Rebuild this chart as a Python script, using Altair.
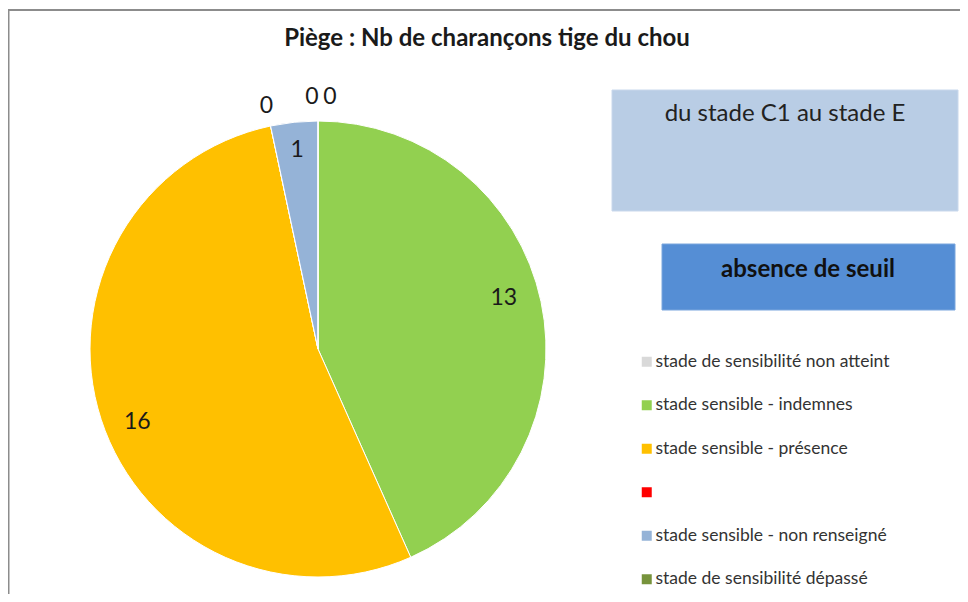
import altair as alt
import pandas as pd

categories = [
    "stade de sensibilité non atteint",
    "stade sensible - indemnes",
    "stade sensible - présence",
    "rouge",
    "stade sensible - non renseigné",
    "stade de sensibilité dépassé",
]
values = [0, 13, 16, 0, 1, 0]
colors = ["#D9D9D9", "#92D050", "#FFC000", "#FF0000", "#95B3D7", "#77933C"]

title_text = "Piège : Nb de charançons tige du chou"
box1_text = "du stade C1 au stade E"
box2_text = "absence de seuil"

FONT = "Lato"
W, H = 952, 586
CX, CY, R = 310, 341, 228

df = pd.DataFrame({"cat": categories, "value": values, "idx": list(range(len(values)))})

base = alt.Chart(df).transform_calculate(
    lab="toString(datum.value)"
)

theta = alt.Theta("value:Q", stack=True)
order = alt.Order("idx:Q", sort="ascending")

pie = base.mark_arc(outerRadius=R, stroke="white", strokeWidth=1).encode(
    theta=theta,
    order=order,
    x=alt.value(CX),
    y=alt.value(CY),
    color=alt.Color(
        "cat:N",
        scale=alt.Scale(domain=categories, range=colors),
        sort=categories,
        legend=alt.Legend(
            orient="none",
            legendX=630,
            legendY=345,
            direction="vertical",
            title=None,
            symbolType="square",
            symbolSize=100,
            symbolStrokeWidth=0,
            labelFont=FONT,
            labelFontSize=17.5,
            labelColor="#333333",
            labelOffset=0,
            rowPadding=24.5,
            padding=0,
            labelLimit=400,
            labelExpr="datum.label == 'rouge' ? '' : datum.label",
        ),
    ),
)

def label_layer(which, radius, dx=0, dy=0):
    return base.transform_calculate(
        txt=f"datum.idx == {which} ? datum.lab : ''"
    ).mark_text(
        radius=radius, dx=dx, dy=dy, font=FONT, fontSize=23, color="#1a1a1a",
        align="center", baseline="middle",
    ).encode(
        theta=theta,
        order=order,
        x=alt.value(CX),
        y=alt.value(CY),
        text=alt.Text("txt:N"),
    )

labels = [
    label_layer(1, 190, dy=-11),
    label_layer(2, 190, dy=14),
    label_layer(4, 200),
    label_layer(0, 252, dx=-6),
    label_layer(3, 248),
    label_layer(5, 252, dx=12),
]

one = pd.DataFrame({"t": [title_text]})
title = alt.Chart(one).mark_text(
    font=FONT, fontSize=24, fontWeight="bold", color="#1a1a1a", align="center", baseline="middle"
).encode(x=alt.value(479), y=alt.value(31), text="t:N")

box1 = alt.Chart(pd.DataFrame({"t": [box1_text]})).mark_rect(
    color="#B9CDE5", stroke="#C9D8EC", strokeWidth=1
).encode(x=alt.value(604), x2=alt.value(950), y=alt.value(82), y2=alt.value(203))
box1_t = alt.Chart(pd.DataFrame({"t": [box1_text]})).mark_text(
    font=FONT, fontSize=24, color="#222222", align="center", baseline="middle"
).encode(x=alt.value(777), y=alt.value(106), text="t:N")

box2 = alt.Chart(pd.DataFrame({"t": [box2_text]})).mark_rect(
    color="#558ED5", stroke="#7AA6DD", strokeWidth=1
).encode(x=alt.value(654), x2=alt.value(947), y=alt.value(236), y2=alt.value(302))
box2_t = alt.Chart(pd.DataFrame({"t": [box2_text]})).mark_text(
    font=FONT, fontSize=24, fontWeight="bold", color="#111111", align="center", baseline="middle"
).encode(x=alt.value(800), y=alt.value(262), text="t:N")

frame = pd.DataFrame({"t": ["frame"]})
top_line = alt.Chart(frame).mark_rule(color="#8C8C8C", strokeWidth=2).encode(
    x=alt.value(0), x2=alt.value(W), y=alt.value(2)
)
left_line = alt.Chart(frame).mark_rule(color="#8C8C8C", strokeWidth=2).encode(
    x=alt.value(0.5), y=alt.value(2), y2=alt.value(H)
)

chart = alt.layer(
    top_line, left_line, pie, *labels, title, box1, box1_t, box2, box2_t
).properties(
    width=W, height=H, padding=0, autosize=alt.AutoSizeParams(type="none"), background="white"
).configure_view(stroke=None)

chart.save("out.html", embed_options={"renderer": "svg", "actions": False})
